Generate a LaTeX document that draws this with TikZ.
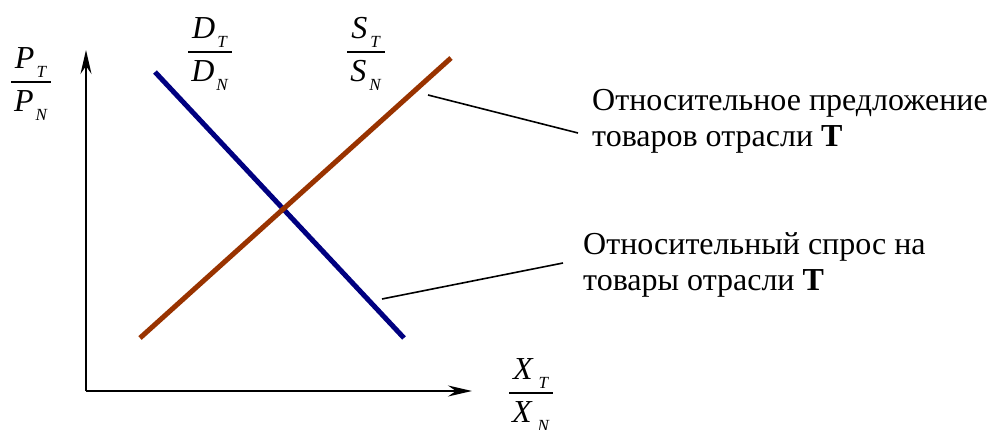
\documentclass[tikz,border=0pt]{standalone}
\usepackage{amsmath}
\usepackage{mathptmx}
\usepackage{fontspec}
\setmainfont{Liberation Serif}
\usetikzlibrary{arrows.meta}
\definecolor{dblue}{RGB}{0,0,128}
\definecolor{dbrown}{RGB}{153,51,0}
% letter with lowered subscript, #3 = gap
\newcommand\vv[3]{\hspace{3pt}\textit{#1}\kern#3\raisebox{-9pt}{\fontsize{17}{17}\selectfont\textit{#2}}\hspace{3pt}}
\begin{document}
\begin{tikzpicture}[x=1pt,y=-1pt,
  axis/.style={line width=1.8pt,-{Stealth[length=24pt,width=11pt,inset=8pt]}},
  curve/.style={line width=5pt},
  leader/.style={line width=1.6pt},
  frac/.style={inner sep=0pt,anchor=base,font=\fontsize{32}{38}\selectfont},
  label/.style={inner sep=0pt,anchor=north west,align=left,font=\fontsize{32}{36}\selectfont}]
\useasboundingbox (0,0) rectangle (988,430);
% axes
\coordinate (O) at (86,391);
\coordinate (Ytop) at (86,50);
\coordinate (Xend) at (472,391);
\draw[axis] (O) -- (Ytop);
\draw[axis] (O) -- (Xend);
% curves
\coordinate (d1) at (155,72);
\coordinate (d2) at (404,338);
\coordinate (s1) at (140,338);
\coordinate (s2) at (451,58);
\draw[curve,dblue] (d1) -- (d2);
\draw[curve,dbrown] (s1) -- (s2);
% axis labels
\node[frac] (py) at (31,90) {$\dfrac{\vv{P}{T}{2pt}}{\vv{P}{N}{2pt}}$};
\node[frac] (dl) at (210,60) {$\dfrac{\vv{D}{T}{2pt}}{\vv{D}{N}{2pt}}$};
\node[frac] (sl) at (366,60) {$\dfrac{\vv{S}{T}{3pt}}{\vv{S}{N}{3pt}}$};
\node[frac] (xl) at (531,401) {$\dfrac{\vv{X}{T}{6pt}}{\vv{X}{N}{6pt}}$};
% labels
\node[label] (supply) at (592,89) {Относительное предложение\\товаров отрасли \textbf{T}};
\node[label] (demand) at (583,232) {Относительный спрос на\\товары отрасли \textbf{T}};
% leaders
\coordinate (ls1) at (428,95);
\coordinate (ls2) at (578,133);
\coordinate (ld1) at (382,299);
\coordinate (ld2) at (563,263);
\draw[leader] (ls1) -- (ls2);
\draw[leader] (ld1) -- (ld2);
\end{tikzpicture}
\end{document}
